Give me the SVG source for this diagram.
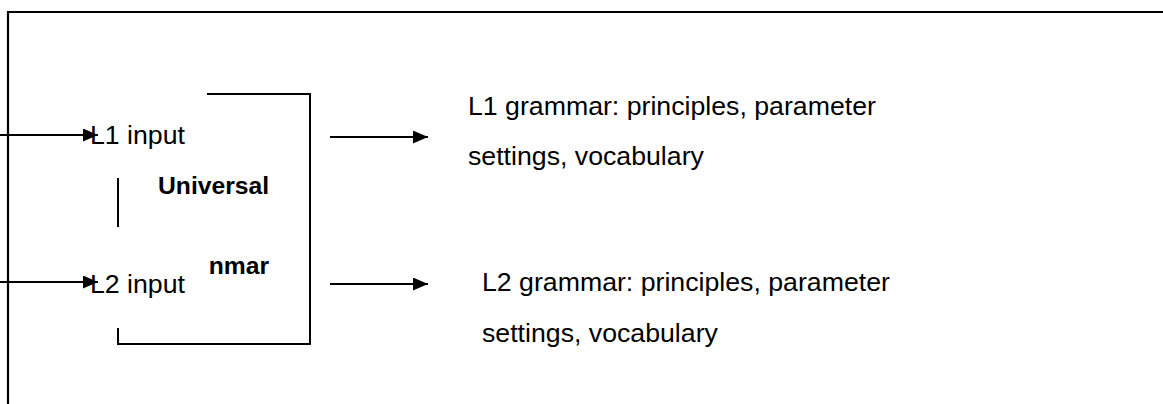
<svg xmlns="http://www.w3.org/2000/svg" width="1163" height="404" viewBox="0 0 1163 404">
  <style>
    .ln { fill: none; stroke: #000; stroke-width: 2; }
    .frame { fill: none; stroke: #000; stroke-width: 2.2; }
    .t { font-family: "Liberation Sans", Arial, sans-serif; font-size: 26.7px; fill: #000; }
    .b { font-family: "Liberation Sans", Arial, sans-serif; font-size: 24.7px; font-weight: bold; fill: #000; }
    .arr { stroke: #000; stroke-width: 1.8; marker-end: url(#ah); }
  </style>
  <defs>
    <marker id="ah" markerUnits="userSpaceOnUse" markerWidth="16" markerHeight="13" refX="15" refY="6.5" orient="auto">
      <path d="M0,0 L15,6.5 L0,13 z" fill="#000"/>
    </marker>
  </defs>
  <rect width="1163" height="404" fill="#fff"/>
  <g id="frame">
    <path class="frame" d="M8,404 V12 H1163"/>
  </g>
  <g id="universal-grammar">
    <path class="ln" d="M207,94 H310 V344 H118 V328"/>
    <path class="ln" d="M118,178 V227"/>
    <text class="b" x="158" y="194">Universal</text>
    <text class="b" x="269" y="274" text-anchor="end">nmar</text>
  </g>
  <g id="l1-input">
    <text class="t" x="90" y="144">L1 input</text>
  </g>
  <g id="l2-input">
    <text class="t" x="90" y="293">L2 input</text>
  </g>
  <g id="l1-grammar">
    <text class="t" x="468" y="115">L1 grammar: principles, parameter</text>
    <text class="t" x="468" y="165">settings, vocabulary</text>
  </g>
  <g id="l2-grammar">
    <text class="t" x="482" y="291">L2 grammar: principles, parameter</text>
    <text class="t" x="482" y="342">settings, vocabulary</text>
  </g>
  <g id="connectors">
    <line class="arr" x1="0" y1="135" x2="98" y2="135"/>
    <line class="arr" x1="0" y1="282" x2="98" y2="282"/>
    <line class="arr" x1="330" y1="137" x2="428" y2="137"/>
    <line class="arr" x1="330" y1="284" x2="428" y2="284"/>
  </g>
</svg>
